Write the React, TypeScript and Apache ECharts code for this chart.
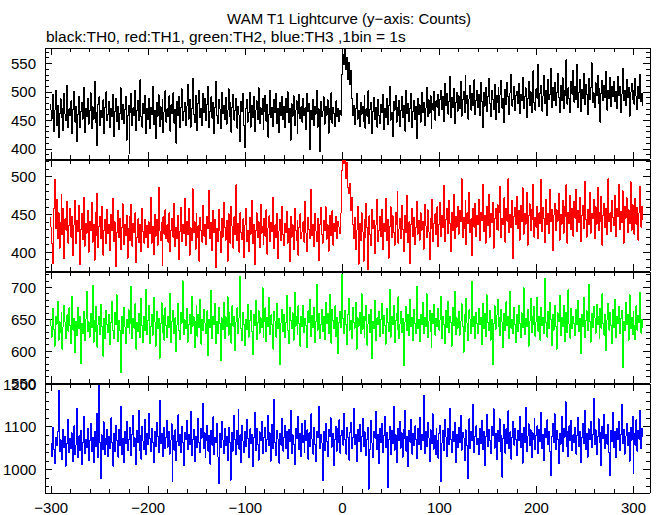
import React, { useEffect, useRef } from "react";
import * as echarts from "echarts";

// Time bins: first bin at -300 s, 1 bin = 1 s
const START_TIME = -300;
const BIN_SECONDS = 1;

// TH0 (black) counts per bin
const TH0 = [
  478,452,495,430,468,503,441,476,419,462,488,455,470,432,497,461,449,512,437,470,
  458,484,426,469,501,447,475,413,460,492,438,466,481,452,508,429,471,456,489,443,
  467,498,435,474,452,519,446,463,405,478,491,440,468,455,486,427,472,500,449,461,
  483,437,470,456,495,421,466,489,448,474,433,462,507,451,478,444,469,492,415,458,
  476,391,464,497,440,472,458,503,432,467,485,449,521,456,438,479,462,494,427,470,
  451,488,436,473,460,509,443,468,418,481,457,495,439,474,452,486,428,465,502,447,
  470,456,493,431,477,462,498,445,469,410,483,458,491,437,472,505,449,466,482,440,
  475,513,452,487,438,470,524,461,446,494,468,432,480,503,455,471,441,497,464,488,
  449,478,509,437,466,491,454,482,426,473,518,459,444,487,470,435,499,462,476,451,
  490,443,468,505,457,481,429,473,496,450,467,488,436,474,459,412,483,465,497,441,
  402,470,487,447,463,499,438,476,455,492,430,468,484,451,507,444,472,460,489,433,
  466,494,448,478,420,461,502,455,473,439,486,463,497,445,470,428,481,458,492,451,
  475,437,488,463,500,446,471,415,479,457,493,440,468,484,426,462,496,453,474,447,
  489,458,472,434,497,465,480,398,468,452,486,441,475,461,503,438,470,395,483,456,
  466,491,443,475,459,486,427,470,452,498,445,473,462,439,484,456,471,448,468,459,
  531,566,548,574,539,560,522,551,513,537,489,458,476,443,471,497,452,468,439,482,
  461,475,448,493,436,470,457,502,444,469,481,427,466,490,451,473,438,487,459,445,
  478,463,496,433,471,455,488,442,476,509,450,464,421,483,468,494,447,472,458,485,
  439,468,492,455,476,431,503,462,480,448,471,497,437,466,485,452,474,418,489,460,
  477,447,499,464,482,440,471,508,456,486,462,493,435,479,468,501,450,484,473,496,
  458,487,503,469,492,448,515,476,497,461,483,527,455,490,472,506,444,481,499,466,
  493,470,518,457,486,501,463,529,479,494,452,488,511,468,497,476,521,460,485,503,
  472,496,458,517,483,438,499,475,508,466,491,524,480,457,502,487,469,513,451,494,
  482,507,463,495,520,471,489,446,504,478,516,492,460,498,531,475,486,509,467,493,
  501,479,515,462,496,484,526,470,491,507,455,488,519,476,500,463,492,537,481,468,
  505,489,548,474,497,512,466,493,529,480,502,458,521,487,496,541,472,508,485,517,
  476,499,533,490,463,511,484,525,470,503,494,556,478,507,488,463,519,496,538,482,
  510,487,548,473,499,521,466,504,489,532,477,513,495,460,523,486,507,551,481,498,
  472,516,493,529,480,505,447,497,520,484,511,490,536,468,502,488,525,474,509,492,
  518,483,500,471,527,494,509,463,496,541,485,503,476,522,490,508,457,499,515,487,
  503,478,524,492,469,510,488,531,483,497,475,
];

// TH1 (red)
const TH1 = [
  447,412,385,458,496,431,470,418,452,405,439,476,423,458,391,444,429,467,412,435,
  458,420,447,395,436,469,411,442,427,462,384,430,451,417,473,408,438,425,455,400,
  441,428,466,413,437,389,452,422,478,406,434,447,418,461,396,429,443,411,456,425,
  437,402,450,428,471,414,440,381,426,455,419,445,403,432,464,410,437,422,449,392,
  431,447,415,463,408,438,426,452,386,420,444,413,437,401,458,427,412,443,419,435,
  406,440,425,473,412,434,397,450,421,443,409,486,428,415,439,382,447,424,456,418,
  436,413,452,401,429,445,420,464,407,433,418,448,390,427,459,414,437,425,471,409,
  441,423,458,396,432,415,484,426,440,404,451,419,435,388,446,428,413,462,421,437,
  410,447,431,482,418,439,402,455,426,443,379,431,414,457,428,399,445,420,466,433,
  416,442,388,451,427,412,461,434,405,447,423,489,415,438,400,452,426,417,444,393,
  436,458,414,429,401,446,424,469,411,437,383,428,452,419,440,406,463,425,434,410,
  445,421,456,397,432,448,414,439,427,472,405,436,419,451,392,428,443,415,460,424,
  409,438,426,454,412,431,387,447,420,436,403,458,429,415,442,396,433,451,418,427,
  440,413,467,425,401,446,430,418,483,422,437,407,451,428,414,445,389,436,459,424,
  412,442,428,460,417,436,401,449,431,422,455,409,438,427,447,418,441,433,425,452,
  508,521,517,522,498,519,486,478,491,455,472,437,418,446,403,429,461,384,438,415,
  452,427,388,443,419,465,432,377,448,423,409,457,431,442,398,436,470,414,429,447,
  421,456,404,438,427,471,415,443,392,434,460,419,448,426,409,453,437,480,412,431,
  445,418,462,430,401,449,426,475,413,440,385,437,458,421,446,410,433,467,424,442,
  416,452,429,441,404,463,435,419,456,427,390,445,431,470,414,438,451,423,460,407,
  437,466,421,449,432,488,414,443,458,425,469,438,401,452,429,476,418,447,433,461,
  424,455,440,497,419,446,431,468,410,452,438,479,426,444,395,458,433,465,421,449,
  437,470,415,453,442,489,427,448,412,461,435,476,420,451,439,466,405,444,458,430,
  463,428,452,487,419,445,436,472,413,458,441,497,426,450,433,468,392,447,459,437,
  474,431,455,416,462,440,485,424,451,437,479,409,448,464,428,456,443,490,420,446,
  433,461,418,452,438,496,427,459,444,413,470,436,451,425,483,440,457,402,449,465,
  429,456,441,478,416,450,437,469,425,461,447,489,412,453,438,475,430,458,421,467,
  445,483,427,455,439,472,414,448,462,431,493,443,420,457,436,479,425,451,444,470,
  418,460,437,486,428,453,441,474,409,449,465,432,458,423,497,440,452,427,468,446,
  435,475,421,458,447,490,430,454,439,481,412,461,445,472,426,456,438,493,429,463,
  448,424,471,437,459,416,452,487,433,461,442,
];

// TH2 (green)
const TH2 = [
  651,622,667,634,608,655,642,678,617,646,629,661,603,638,672,645,619,657,631,668,
  640,612,686,633,651,598,647,625,669,636,655,581,643,628,662,617,650,694,630,646,
  622,659,637,703,614,648,631,670,606,641,655,626,673,638,592,651,619,664,642,629,
  657,610,645,678,633,620,661,641,688,615,648,632,566,654,627,669,638,612,650,637,
  665,628,643,702,619,651,636,674,603,645,631,659,621,683,640,614,654,633,697,626,
  648,671,612,639,657,625,684,646,608,662,635,651,589,643,676,629,656,617,668,640,
  621,655,637,691,613,647,664,628,652,599,641,675,633,618,660,644,710,626,649,635,
  667,614,642,658,627,686,639,654,605,646,672,623,658,637,681,611,650,632,666,644,
  628,663,593,649,637,695,620,655,641,674,612,647,628,668,643,585,652,634,676,619,
  654,638,685,625,660,643,612,671,639,655,601,646,668,627,652,717,635,617,661,642,
  609,650,634,673,622,648,664,631,594,657,640,679,618,645,663,628,652,637,699,621,
  646,668,615,653,638,684,626,657,641,603,662,647,622,675,636,651,579,644,666,630,
  658,621,645,687,632,612,669,648,635,660,617,692,639,654,626,671,643,608,655,638,
  672,629,651,640,606,663,645,681,623,656,637,668,614,647,704,633,659,620,642,665,
  631,654,618,676,643,659,627,689,640,612,666,648,635,671,623,653,596,645,662,637,
  720,651,628,664,641,610,657,682,633,648,619,669,645,636,676,603,652,639,661,627,
  690,634,655,621,648,672,609,643,658,629,666,588,647,635,680,617,652,641,662,623,
  649,675,628,656,640,611,667,645,630,697,622,654,641,672,613,648,659,634,685,619,
  643,662,629,651,577,646,670,632,657,624,681,639,653,617,665,644,628,702,636,650,
  615,658,641,676,627,653,638,690,621,647,664,631,606,659,643,673,625,651,638,667,
  633,649,686,620,655,642,612,663,637,678,629,654,645,608,669,640,693,626,652,636,
  662,625,647,674,639,598,657,631,683,644,616,665,650,627,709,638,655,620,661,643,
  628,667,641,652,610,675,636,659,623,688,645,632,664,617,650,579,643,671,634,656,
  681,638,653,624,666,645,605,659,632,677,640,654,619,694,636,649,627,668,642,613,
  657,630,672,644,621,660,637,699,626,651,638,665,608,647,683,629,655,641,670,623,
  646,684,631,655,617,668,640,653,627,714,645,622,662,636,676,650,609,658,633,671,
  639,603,660,646,687,624,653,638,672,615,649,661,629,696,642,620,667,635,654,643,
  624,665,641,679,630,651,596,657,638,684,621,648,663,632,705,646,614,659,637,670,
  652,628,673,641,655,619,667,636,690,643,625,658,601,649,675,633,661,640,612,666,
  637,681,622,654,643,670,628,651,664,574,647,632,676,641,658,617,688,635,653,626,
  662,640,618,671,633,656,645,692,628,650,637,
];

// TH3 (blue)
const TH3 = [
  1062,1031,1098,1047,1013,1075,1056,1089,1184,1041,1069,1024,1093,1052,1078,1008,1061,1117,1039,1073,
  1049,1086,1018,1067,1102,1035,1058,1143,1027,1079,1044,1091,1012,1063,1125,1038,1071,1052,1096,1021,
  1067,1108,1043,1075,1016,1089,1054,1132,1028,1197,1063,979,1081,1046,1112,1035,1072,1058,1094,1030,
  1078,1049,1121,1062,1008,1085,1041,1103,1067,1029,1094,1055,1147,1036,1072,1016,1089,1061,1113,1044,
  1070,1098,1032,1081,1126,1053,1074,1011,1092,1063,1138,1045,1079,1024,1101,1066,1047,1118,1035,1084,
  1058,1131,1072,1042,1096,1064,1017,1088,1053,1109,1077,1039,1162,1061,1085,1030,1099,1048,1074,1115,
  1052,1090,1036,1068,1107,972,1079,1045,1093,1021,1066,1128,1055,1083,1039,1101,1063,1010,1087,1070,
  1115,1046,1082,1059,1136,1033,1071,1094,1018,1077,1052,1119,1064,1040,1097,1073,1155,1048,1086,1027,
  1068,1104,1043,1080,1012,1091,1057,1123,1035,1075,1062,1108,1029,967,1084,1051,1113,1069,1038,1095,
  1056,1078,1021,1099,1064,975,1087,1043,1126,1070,1034,1092,1058,1141,1047,1081,1016,1103,1066,1039,
  1089,1053,1118,1072,1028,1095,1061,1083,1006,1076,1134,1045,1097,1059,1022,1088,1067,1112,1037,1074,
  1098,1041,1069,1127,1055,1086,1019,1078,1106,1048,1164,1063,1032,1091,1071,1015,1084,1057,1119,1043,
  1076,1103,1050,1088,1026,1094,1065,1139,1038,1081,1059,1011,1097,1072,1124,1046,1085,1030,1108,1062,
  1079,1040,1115,1067,1093,1024,1086,1054,1130,1071,1036,1099,1058,1018,1090,1075,1147,1049,1083,1062,
  974,1088,1045,1107,1066,1031,1093,1077,1121,1052,1084,1009,1070,1101,1043,1096,1063,1116,1038,1080,
  1092,1057,1131,1069,1036,1098,1074,1022,1087,1110,1049,1075,1143,1058,1083,1019,1094,1066,1105,1041,
  1077,1120,1053,1088,1032,1069,1099,954,1046,1083,1115,1061,1028,1090,1073,1136,1047,1082,1014,1096,
  1063,1108,1039,1079,1125,1052,1087,958,1071,1101,1034,1092,1060,1148,1045,1081,1016,1097,1068,1113,
  1050,1086,1029,1094,1072,1139,1043,1078,1007,1091,1064,1117,1036,1084,1055,1102,1070,1026,1095,1058,
  1121,1046,1082,1067,1173,1038,1089,1053,1110,1074,1019,1093,1061,1130,1047,1080,1035,1097,1068,1026,
  1085,1104,972,1062,1091,1044,1118,1076,1031,1096,1058,1142,1071,1040,1088,1065,1110,1017,1083,1052,
  1099,1063,1127,1045,1087,1074,1020,1093,1056,978,1081,1119,1048,1090,1067,1153,1039,1078,1102,1059,
  1072,1035,1096,1061,1114,1047,1089,1009,1077,1128,1054,1094,1068,1037,1101,1079,1142,1050,1085,1023,
  1092,1065,1119,1043,1080,982,1073,1106,1038,1095,1061,1137,1049,1088,1024,1076,1112,1057,1097,1070,
  1033,1091,1068,1125,1052,1084,1015,1099,1063,1146,1041,1078,1107,1056,1093,1027,1086,1071,1119,1046,
  1080,1102,1037,1094,1065,1133,1049,1083,1021,1097,1074,1116,1058,1089,1043,986,1077,1108,1062,1130,
  1047,1092,1070,1013,1085,1059,1124,1041,1096,1076,1158,1053,1088,1030,1102,1067,1115,1044,1081,1063,
  1098,1036,1079,1121,1054,1090,1017,1074,1107,1061,1138,1046,1085,1029,1095,1069,1113,1051,1082,1166,
  1058,1093,1034,1077,1119,1063,1087,1009,1101,1072,1129,1048,1083,1059,1106,1040,986,1091,1066,1134,
  1052,1089,1027,1097,1071,1113,1045,1082,1153,1060,1094,1036,1078,1108,1055,1087,1019,1099,1068,1125,
  990,1084,1057,1116,1043,1092,1071,1138,1049,1096,1075,
];

const SERIES_NAMES = ["TH0", "TH1", "TH2", "TH3"];
const SERIES_VALUES = [TH0, TH1, TH2, TH3];
const SERIES_COLORS = ["#000000", "#ff0000", "#00ff00", "#0000ff"];

const TITLE = "WAM T1 Lightcurve (y\u2212axis: Counts)";
const SUBTITLE = "black:TH0, red:TH1, green:TH2, blue:TH3 ,1bin = 1s";

// X axis
const X_RANGE = [-306, 317];
const X_MAJOR_TICKS = [-300, -200, -100, 0, 100, 200, 300];
const X_MINOR_STEP = 20;

// Y axes per panel
const Y_RANGES = [
  [382, 577],
  [375, 522],
  [550, 724],
  [945, 1200],
];
const Y_MAJOR_TICKS = [
  [400, 450, 500, 550],
  [400, 450, 500],
  [550, 600, 650, 700],
  [1000, 1100, 1200],
];
const Y_MINOR_STEPS = [10, 10, 10, 20];

const FONT = '"Liberation Sans", Arial, Helvetica, sans-serif';

function stepsWithin(lo: number, hi: number, step: number): number[] {
  const out: number[] = [];
  const start = Math.ceil(lo / step) * step;
  for (let v = start; v <= hi + 1e-9; v += step) out.push(v);
  return out;
}

function fmt(v: number): string {
  return v < 0 ? "\u2212" + Math.abs(v) : String(v);
}

export default function App() {
  const ref = useRef<HTMLDivElement>(null);

  useEffect(() => {
    if (!ref.current) return;
    const chart = echarts.init(ref.current, null, { renderer: "svg" });

    const gridTops = [48, 160, 272, 384];
    const gridHeights = [111, 111, 111, 110];
    const grids = gridTops.map((t, i) => ({
      left: 45,
      right: 11,
      top: t,
      height: gridHeights[i],
      show: false,
      containLabel: false,
    }));

    const xMinor = stepsWithin(X_RANGE[0], X_RANGE[1], X_MINOR_STEP);
    const black = "#000";

    const xAxes: any[] = [];
    const yAxes: any[] = [];
    for (let i = 0; i < 4; i++) {
      const base = {
        gridIndex: i,
        type: "value",
        min: X_RANGE[0],
        max: X_RANGE[1],
        splitLine: { show: false },
      };
      for (const pos of ["bottom", "top"]) {
        xAxes.push({
          ...base,
          position: pos,
          axisLine: { show: true, onZero: false, lineStyle: { color: black, width: 1 } },
          axisTick: {
            show: true,
            inside: true,
            length: 7,
            customValues: X_MAJOR_TICKS,
            lineStyle: { color: black, width: 1 },
          },
          axisLabel: {
            show: pos === "bottom" && i === 3,
            customValues: X_MAJOR_TICKS,
            formatter: fmt,
            color: black,
            fontFamily: FONT,
            fontSize: 15,
            margin: 7,
          },
        });
        xAxes.push({
          ...base,
          position: pos,
          axisLine: { show: false, onZero: false },
          axisTick: {
            show: true,
            inside: true,
            length: 4,
            customValues: xMinor,
            lineStyle: { color: black, width: 1 },
          },
          axisLabel: { show: false },
        });
      }

      const yMinor = stepsWithin(Y_RANGES[i][0], Y_RANGES[i][1], Y_MINOR_STEPS[i]);
      const ybase = {
        gridIndex: i,
        type: "value",
        min: Y_RANGES[i][0],
        max: Y_RANGES[i][1],
        splitLine: { show: false },
      };
      for (const pos of ["left", "right"]) {
        yAxes.push({
          ...ybase,
          position: pos,
          axisLine: { show: true, onZero: false, lineStyle: { color: black, width: 1 } },
          axisTick: {
            show: true,
            inside: true,
            length: 7,
            customValues: Y_MAJOR_TICKS[i],
            lineStyle: { color: black, width: 1 },
          },
          axisLabel: {
            show: pos === "left",
            customValues: Y_MAJOR_TICKS[i],
            formatter: fmt,
            color: black,
            fontFamily: FONT,
            fontSize: 15,
            margin: 9,
          },
        });
        yAxes.push({
          ...ybase,
          position: pos,
          axisLine: { show: false, onZero: false },
          axisTick: {
            show: true,
            inside: true,
            length: 4,
            customValues: yMinor,
            lineStyle: { color: black, width: 1 },
          },
          axisLabel: { show: false },
        });
      }
    }

    const series = SERIES_VALUES.map((vals, i) => ({
      name: SERIES_NAMES[i],
      type: "line",
      xAxisIndex: i * 4,
      yAxisIndex: i * 4,
      data: vals.map((v, k) => [START_TIME + k * BIN_SECONDS, v]),
      step: "middle",
      showSymbol: false,
      symbol: "none",
      clip: true,
      lineStyle: { color: SERIES_COLORS[i], width: 1 },
      itemStyle: { color: SERIES_COLORS[i] },
      emphasis: { disabled: true },
      silent: true,
    }));

    chart.setOption({
      animation: false,
      backgroundColor: "#fff",
      graphic: [
        {
          type: "text",
          x: 349,
          y: 18,
          style: {
            text: TITLE,
            fill: black,
            font: `15px ${FONT}`,
            textAlign: "center",
            textVerticalAlign: "middle",
          },
        },
        {
          type: "text",
          x: 46,
          y: 36,
          style: {
            text: SUBTITLE,
            fill: black,
            font: `15.5px ${FONT}`,
            textAlign: "left",
            textVerticalAlign: "middle",
          },
        },
      ],
      grid: grids,
      xAxis: xAxes,
      yAxis: yAxes,
      series,
    });

    return () => {
      chart.dispose();
    };
  }, []);

  return (
    <>
      <style>{`.lc-chart svg path { shape-rendering: crispEdges; }`}</style>
      <div
        ref={ref}
        className="lc-chart"
        style={{ position: "absolute", left: 0, top: 0, width: 661, height: 515, background: "#fff" }}
      />
    </>
  );
}
